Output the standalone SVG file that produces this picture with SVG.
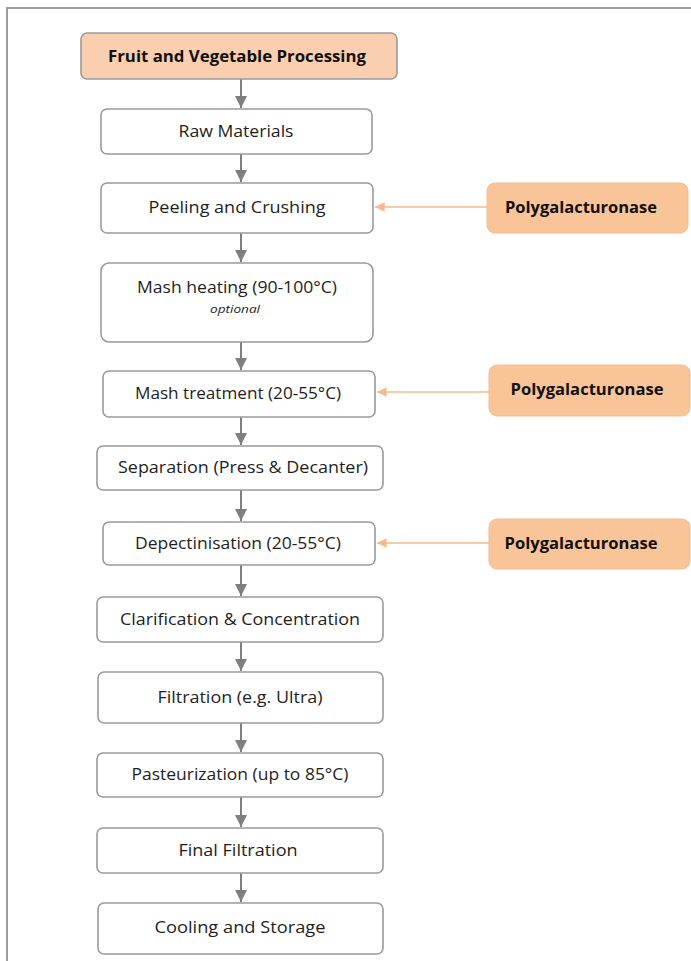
<svg xmlns="http://www.w3.org/2000/svg" width="691" height="961" viewBox="0 0 691 961">
  <style>
    .step { fill: #ffffff; stroke: #9a9a9a; stroke-width: 1.6; }
    .head { fill: #f9cfb0; stroke: #9a9a9a; stroke-width: 1.6; }
    .enz  { fill: #f8c498; stroke: #f6bd8e; stroke-width: 1; }
    .lbl  { font-family: "Open Sans", "DejaVu Sans", sans-serif; font-size: 16px; fill: #1e1e1e; text-anchor: middle; }
    .bold { font-family: "Open Sans", "DejaVu Sans", sans-serif; font-size: 16px; font-weight: bold; fill: #111111; text-anchor: middle; }
    .note { font-family: "Open Sans", "DejaVu Sans", sans-serif; font-size: 11px; font-style: italic; fill: #1e1e1e; text-anchor: middle; }
    .flow { stroke: #7f7f7f; stroke-width: 2; fill: none; marker-end: url(#grayHead); }
    .feed { stroke: #f5b98c; stroke-width: 1.6; fill: none; marker-end: url(#orangeHead); }
  </style>
  <defs>
    <marker id="grayHead" viewBox="0 0 10 10" refX="10" refY="5" markerWidth="6" markerHeight="6" markerUnits="strokeWidth" orient="auto">
      <path d="M0,0 L10,5 L0,10 z" fill="#7f7f7f"/>
    </marker>
    <marker id="orangeHead" viewBox="0 0 10 10" refX="10" refY="5" markerWidth="6" markerHeight="6" markerUnits="strokeWidth" orient="auto">
      <path d="M0,0 L10,5 L0,10 z" fill="#f5b98c"/>
    </marker>
  </defs>

  <rect x="0" y="0" width="691" height="961" fill="#ffffff"/>
  <!-- outer frame (open towards right and bottom) -->
  <path d="M7,961 L7,8 L691,8" fill="none" stroke="#9e9e9e" stroke-width="2"/>

  <g id="connectors">
    <line class="flow" x1="241" y1="79" x2="241" y2="108"/>
    <line class="flow" x1="241" y1="154" x2="241" y2="182"/>
    <line class="flow" x1="241" y1="233" x2="241" y2="262"/>
    <line class="flow" x1="241" y1="342" x2="241" y2="370"/>
    <line class="flow" x1="241" y1="417" x2="241" y2="445"/>
    <line class="flow" x1="241" y1="490" x2="241" y2="521"/>
    <line class="flow" x1="241" y1="565" x2="241" y2="596"/>
    <line class="flow" x1="241" y1="642" x2="241" y2="671"/>
    <line class="flow" x1="241" y1="723" x2="241" y2="752"/>
    <line class="flow" x1="241" y1="797" x2="241" y2="827"/>
    <line class="flow" x1="241" y1="873" x2="241" y2="902"/>
    <line class="feed" x1="487" y1="207" x2="375" y2="207"/>
    <line class="feed" x1="489" y1="392" x2="377" y2="392"/>
    <line class="feed" x1="489" y1="543" x2="377" y2="543"/>
  </g>

  <g id="fruit-vegetable-processing">
    <rect class="head" x="81" y="33" width="316" height="46" rx="6"/>
    <text class="bold" x="237" y="62" textLength="258" lengthAdjust="spacingAndGlyphs">Fruit and Vegetable Processing</text>
  </g>
  <g id="raw-materials">
    <rect class="step" x="101" y="109" width="271" height="45" rx="6"/>
    <text class="lbl" x="236" y="137" textLength="115" lengthAdjust="spacingAndGlyphs">Raw Materials</text>
  </g>
  <g id="peeling-crushing">
    <rect class="step" x="101" y="183" width="272" height="50" rx="6"/>
    <text class="lbl" x="237" y="213" textLength="177" lengthAdjust="spacingAndGlyphs">Peeling and Crushing</text>
  </g>
  <g id="mash-heating">
    <rect class="step" x="101" y="263" width="272" height="79" rx="8"/>
    <text class="lbl" x="237" y="293" textLength="200" lengthAdjust="spacingAndGlyphs">Mash heating (90-100°C)</text>
    <text class="note" x="235" y="313" textLength="50" lengthAdjust="spacingAndGlyphs">optional</text>
  </g>
  <g id="mash-treatment">
    <rect class="step" x="103" y="371" width="272" height="46" rx="6"/>
    <text class="lbl" x="238" y="399" textLength="206" lengthAdjust="spacingAndGlyphs">Mash treatment (20-55°C)</text>
  </g>
  <g id="separation">
    <rect class="step" x="97" y="446" width="286" height="44" rx="6"/>
    <text class="lbl" x="243" y="473" textLength="250" lengthAdjust="spacingAndGlyphs">Separation (Press &amp; Decanter)</text>
  </g>
  <g id="depectinisation">
    <rect class="step" x="103" y="522" width="272" height="43" rx="6"/>
    <text class="lbl" x="238" y="549" textLength="206" lengthAdjust="spacingAndGlyphs">Depectinisation (20-55°C)</text>
  </g>
  <g id="clarification">
    <rect class="step" x="97" y="597" width="286" height="45" rx="6"/>
    <text class="lbl" x="240" y="625" textLength="240" lengthAdjust="spacingAndGlyphs">Clarification &amp; Concentration</text>
  </g>
  <g id="filtration">
    <rect class="step" x="98" y="672" width="285" height="51" rx="6"/>
    <text class="lbl" x="240" y="703" textLength="165" lengthAdjust="spacingAndGlyphs">Filtration (e.g. Ultra)</text>
  </g>
  <g id="pasteurization">
    <rect class="step" x="97" y="753" width="286" height="44" rx="6"/>
    <text class="lbl" x="240" y="780" textLength="217" lengthAdjust="spacingAndGlyphs">Pasteurization (up to 85°C)</text>
  </g>
  <g id="final-filtration">
    <rect class="step" x="97" y="828" width="286" height="45" rx="6"/>
    <text class="lbl" x="238" y="856" textLength="119" lengthAdjust="spacingAndGlyphs">Final Filtration</text>
  </g>
  <g id="cooling-storage">
    <rect class="step" x="98" y="903" width="285" height="51" rx="6"/>
    <text class="lbl" x="240" y="933" textLength="171" lengthAdjust="spacingAndGlyphs">Cooling and Storage</text>
  </g>

  <g id="enzyme-1">
    <rect class="enz" x="487" y="183" width="201" height="50" rx="8"/>
    <text class="bold" x="581" y="213" textLength="152" lengthAdjust="spacingAndGlyphs">Polygalacturonase</text>
  </g>
  <g id="enzyme-2">
    <rect class="enz" x="489" y="365" width="201" height="51" rx="8"/>
    <text class="bold" x="587" y="395" textLength="153" lengthAdjust="spacingAndGlyphs">Polygalacturonase</text>
  </g>
  <g id="enzyme-3">
    <rect class="enz" x="489" y="519" width="201" height="50" rx="8"/>
    <text class="bold" x="581" y="549" textLength="153" lengthAdjust="spacingAndGlyphs">Polygalacturonase</text>
  </g>
</svg>
